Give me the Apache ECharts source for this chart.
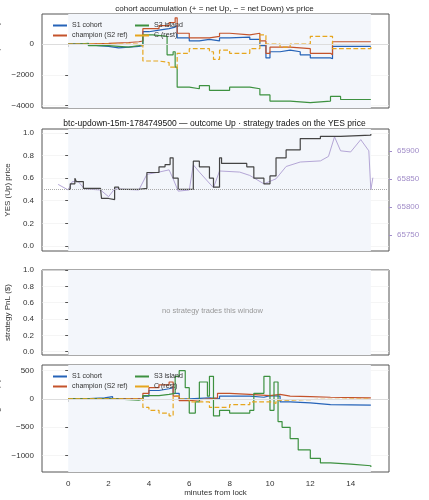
<!DOCTYPE html>
<html>
<head>
<meta charset="utf-8">
<script src="https://cdn.jsdelivr.net/npm/echarts@6/dist/echarts.min.js"></script>
<style>body{margin:0;background:#fff}#c{width:429px;height:500px}</style>
</head>
<body>
<div id="c"></div>
<script>
// minutes from lock, value pairs
var accS1 = [[0,0],[0.8,-100],[1.5,-150],[2,-250],[2.5,-150],[3.5,-100],[3.7,800],[4,900],[4.5,1000],[5,1100],[5.3,1200],[5.4,400],[6,200],[6.5,300],[7,200],[7.5,400],[8,450],[9,300],[9.5,-100],[9.8,-900],[10,-500],[10.5,-400],[11,-500],[11.5,-700],[12,-900],[13,-950],[13.1,-150],[15,-150]];
var accS2 = [[0,0],[0.8,50],[2,100],[3,150],[3.5,200],[3.7,1000],[4.5,1200],[5,1400],[5.3,1700],[5.4,700],[6,400],[7,500],[7.5,700],[8,600],[9,700],[9.5,200],[9.8,-600],[10,-200],[11,-300],[12,-600],[13,-700],[13.1,150],[15,150]];
var accS3 = [[0,0],[0.5,50],[1,-100],[2,-200],[3,-100],[3.5,-50],[3.7,600],[4.2,500],[4.9,-700],[5.2,-500],[5.3,-1500],[5.4,-2800],[6,-2900],[6.5,-2700],[7,-3000],[8,-2800],[9,-2900],[9.5,-3300],[10,-3700],[11,-3800],[12,-3700],[13,-3400],[13.5,-3600],[15,-3600]];
var accC = [[0,0],[3.5,-100],[3.7,-1100],[4.5,-1200],[5,-1500],[5.3,-1600],[5.4,-600],[6,-300],[7,-500],[7.2,-1000],[7.5,-400],[8,-600],[9,-300],[9.5,600],[9.8,0],[10.5,-200],[11,0],[12,500],[13,500],[13.1,-300],[15,-150]];
var yesPrice = [[0,0.5],[0.1,0.55],[0.33,0.6],[0.4,0.57],[0.75,0.51],[1.6,0.5],[1.65,0.42],[2,0.41],[2.3,0.52],[2.5,0.5],[3.5,0.51],[3.9,0.65],[4.5,0.7],[4.8,0.72],[5.05,0.78],[5.2,0.6],[5.45,0.5],[6,0.5],[6.2,0.75],[6.5,0.7],[7,0.6],[7.2,0.52],[7.5,0.78],[7.6,0.73],[8.85,0.7],[9.2,0.6],[9.7,0.55],[10,0.62],[10.3,0.78],[10.8,0.85],[11.5,0.95],[12.5,0.97],[13.5,0.98],[15,0.99]];
var btcUsd = [[-0.5,65840],[0,65830],[0.2,65845],[0.5,65845],[0.8,65832],[1.6,65830],[2,65818],[2.3,65832],[3.5,65830],[3.9,65858],[4.5,65862],[5,65866],[5.2,65850],[5.45,65828],[6,65830],[6.2,65875],[6.5,65862],[7.2,65834],[7.5,65864],[8.5,65862],[9,65856],[9.7,65841],[10.3,65850],[10.8,65872],[11.5,65880],[12.5,65882],[12.9,65890],[13.2,65925],[13.5,65900],[14,65898],[14.5,65920],[14.9,65900],[15,65830],[15.1,65852]];
var pnlS1 = [[0,0],[0.8,20],[1.8,40],[2.2,0],[3.5,0],[3.7,50],[4,150],[4.5,180],[5,200],[5.2,100],[5.5,0],[6,20],[7,0],[7.5,50],[8,50],[9,30],[9.7,60],[10,50],[10.5,-50],[11,-70],[12,-100],[13,-110],[15,-120]];
var pnlS2 = [[0,0],[3.5,0],[3.7,100],[4,200],[4.5,250],[5,300],[5.2,50],[5.5,-30],[6,0],[7,20],[7.4,100],[8,80],[9,60],[10,80],[10.5,50],[11,40],[12,30],[13,20],[15,10]];
var pnlS3 = [[0,0],[2.3,-20],[3.5,0],[3.7,60],[4.5,80],[5,100],[5.3,400],[5.5,500],[5.8,200],[6,-250],[6.3,-50],[6.5,300],[6.9,50],[7,400],[7.2,-300],[7.5,-200],[8,-250],[9,-200],[9.2,100],[9.7,400],[10,-200],[10.2,300],[10.4,-400],[10.6,-500],[11,-700],[11.4,-900],[12,-1050],[12.5,-1130],[13,-1150],[14,-1180],[15,-1200]];
var pnlC = [[0,0],[3.5,0],[3.7,-150],[4,-200],[4.5,-250],[5,-300],[5.2,50],[5.5,0],[6,-50],[7,-150],[8,-100],[9,-50],[10,-80],[10.3,-20],[11,-10],[12,0],[15,0]];
var cohortNames = ['S1 cohort', 'champion (S2 ref)', 'S3 island', 'C (rest)'];
var cohortColors = ['#2563b8', '#c4532b', '#3d9140', '#e6a61e'];

var chart = echarts.init(document.getElementById('c'));
var grids = [
    {left: 42, right: 40, top: 14, height: 94},
    {left: 42, right: 40, top: 129, height: 122},
    {left: 42, right: 40, top: 270, height: 85},
    {left: 42, right: 40, top: 365, height: 107}
];
grids.forEach(function(g){ g.show = true; g.borderColor = '#555'; g.borderWidth = 1; g.backgroundColor = '#fff'; g.outerBoundsMode = 'none'; g.containLabel = false; });

var axFont = {fontSize: 8, color: '#333'};
var xTicks = [0,2,4,6,8,10,12,14];
var xAxes = grids.map(function(g, i){
    return {gridIndex: i, type: 'value', min: -1.3, max: 15.9,
        axisLine: {show: false},
        axisLabel: Object.assign({show: i == 3, customValues: xTicks}, axFont),
        axisTick: {show: true, length: 3, customValues: xTicks, lineStyle: {color: '#555'}},
        splitLine: {show: false},
        name: i == 3 ? 'minutes from lock' : '', nameLocation: 'middle', nameGap: 16, nameTextStyle: {fontSize: 8, color: '#333'}};
});
function yAx(i, min, max, ticks, name, fmt){
    return {gridIndex: i, type: 'value', min: min, max: max, name: name, nameLocation: 'middle', nameGap: 28,
        nameTextStyle: {fontSize: 8, color: '#333'},
        axisLine: {show: false}, axisTick: {show: true, length: 3, customValues: ticks, lineStyle: {color: '#555'}},
        axisLabel: Object.assign({customValues: ticks, formatter: fmt}, axFont),
        splitLine: {show: true, lineStyle: {color: '#eee', width: 0.6}}};
}
var minus = function(v){ return String(v).replace('-', '\u2212'); };
var yAxes = [
    yAx(0, -4150, 1950, [-4000, -2000, 0], 'acc. net YES (shares)', minus),
    yAx(1, -0.045, 1.035, [0, 0.2, 0.4, 0.6, 0.8, 1.0], 'YES (Up) price', function(v){ return v.toFixed(1); }),
    yAx(2, -0.04, 1.0, [0, 0.2, 0.4, 0.6, 0.8, 1.0], 'strategy PnL ($)', function(v){ return v.toFixed(1); }),
    yAx(3, -1290, 600, [-1000, -500, 0, 500], 'cohort moving PnL ($)', minus),
    {gridIndex: 1, type: 'value', position: 'right', min: 65721, max: 65939,
        name: 'BTC/USD (strike dotted = YES 0.5)', nameLocation: 'middle', nameGap: 33, nameTextStyle: {fontSize: 7, color: '#a08cc8'},
        axisLine: {show: false}, axisTick: {show: true, length: 3, customValues: [65750, 65800, 65850, 65900], lineStyle: {color: '#a08cc8'}},
        axisLabel: {fontSize: 8, color: '#a08cc8', customValues: [65750, 65800, 65850, 65900], formatter: function(v){ return String(v); }}, splitLine: {show: false}}
];
yAxes[1].nameGap = 24;
yAxes[2].nameGap = 24;

function shade(){
    return {silent: true, itemStyle: {color: '#f3f6fb'}, data: [[{xAxis: 0}, {xAxis: 15}]]};
}
function stepLine(name, data, color, ax, dashed, extra){
    return Object.assign({name: name, type: 'line', xAxisIndex: ax, yAxisIndex: ax, data: data, step: 'end',
        showSymbol: false, symbol: 'none', lineStyle: {color: color, width: 1.2, type: dashed ? 'dashed' : 'solid'},
        itemStyle: {color: color}, z: 3}, extra || {});
}
var zeroLine = {silent: true, symbol: 'none', label: {show: false}, lineStyle: {color: '#ddd', type: 'solid', width: 1}, data: [{yAxis: 0}]};

var series = [];
[[accS1, accS2, accS3, accC, 0], [pnlS1, pnlS2, pnlS3, pnlC, 3]].forEach(function(set){
    var ax = set[4];
    for (var k = 0; k < 4; k++) {
        var extra = {};
        if (k == 0) extra = {markArea: shade(), markLine: zeroLine};
        series.push(stepLine(cohortNames[k], set[k], cohortColors[k], ax, k == 3, extra));
    }
});
series.push(stepLine('YES', yesPrice, '#444', 1, false, {markArea: shade(),
    markLine: {silent: true, symbol: 'none', label: {show: false}, lineStyle: {color: '#aaa', type: 'dotted', width: 1}, data: [{yAxis: 0.5}]}}));
series.push({name: 'BTC', type: 'line', xAxisIndex: 1, yAxisIndex: 4, data: btcUsd, showSymbol: false, symbol: 'none',
    lineStyle: {color: '#b4a6d6', width: 1}, z: 2});
series.push({type: 'line', xAxisIndex: 2, yAxisIndex: 2, data: [], markArea: shade()});

var legendText = {fontSize: 7, color: '#333'};
function legends(top){
    return [
        {data: cohortNames.slice(0, 2), left: 48, top: top, orient: 'vertical', itemWidth: 14, itemHeight: 2, itemGap: 3, textStyle: legendText, icon: 'rect'},
        {data: cohortNames.slice(2, 4), left: 130, top: top, orient: 'vertical', itemWidth: 14, itemHeight: 2, itemGap: 3, textStyle: legendText, icon: 'rect'}
    ];
}

chart.setOption({
    animation: false,
    title: [
        {text: 'cohort accumulation (+ = net Up, \u2212 = net Down) vs price', left: 'center', top: 0, textStyle: {fontSize: 8, fontWeight: 'normal', color: '#222'}},
        {text: 'btc-updown-15m-1784749500 \u2014 outcome Up \u00b7 strategy trades on the YES price', left: 'center', top: 114, textStyle: {fontSize: 8.5, fontWeight: 'normal', color: '#111'}}
    ],
    graphic: [{type: 'text', left: 162, top: 307, z: 100, style: {text: 'no strategy trades this window', fontSize: 7.5, fill: '#999'}}],
    legend: legends(17).concat(legends(368)),
    grid: grids,
    xAxis: xAxes,
    yAxis: yAxes,
    series: series
});
</script>
</body>
</html>
